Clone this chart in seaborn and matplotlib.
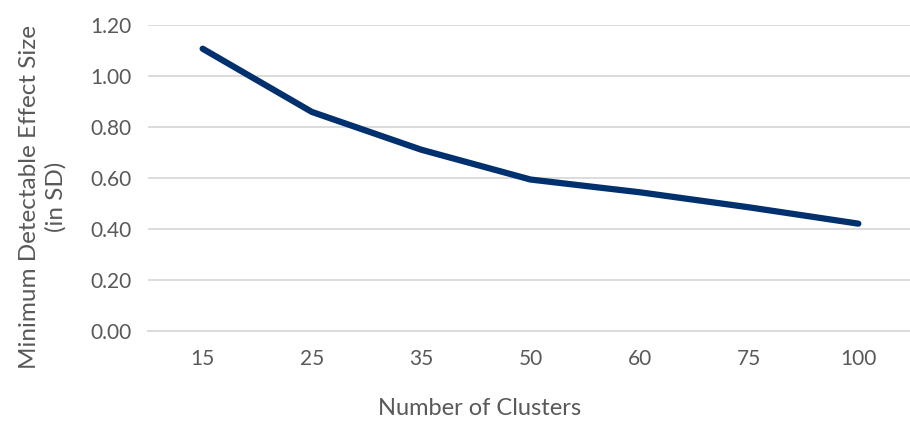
import matplotlib
matplotlib.use("Agg")
import matplotlib.pyplot as plt
import seaborn as sns
import pandas as pd

clusters = ["15", "25", "35", "50", "60", "75", "100"]
mdes = [1.107, 0.859, 0.711, 0.594, 0.544, 0.485, 0.421]
yticks = [0.0, 0.2, 0.4, 0.6, 0.8, 1.0, 1.2]

sns.set_theme(style="white")
plt.rcParams['font.family'] = ['Lato', 'DejaVu Sans']

df = pd.DataFrame({"Number of Clusters": clusters, "MDES": mdes})

fig = plt.figure(figsize=(9.10, 4.21), dpi=100)
ax = fig.add_axes([148/910, 1 - 331/421, (913-148)/910, (331-25)/421])

sns.lineplot(data=df, x="Number of Clusters", y="MDES", ax=ax, sort=False,
             color="#00306E", linewidth=4.5, solid_capstyle="round", solid_joinstyle="round")

ax.set_ylim(0, 1.2)
ax.set_xlim(-0.5, 6.5)
ax.set_yticks(yticks)
ax.set_yticklabels([f"{v:.2f}" for v in yticks])
ax.yaxis.grid(True, color="#D9D9D9", linewidth=1.3)
ax.set_axisbelow(True)
for s in ax.spines.values():
    s.set_visible(False)
ax.spines['bottom'].set_visible(True)
ax.spines['bottom'].set_color("#D9D9D9")
ax.spines['bottom'].set_linewidth(1.3)
ax.tick_params(axis='both', length=0, labelsize=15, colors="#595959")
ax.tick_params(axis='x', pad=13)
ax.tick_params(axis='y', pad=12)

ax.set_xlabel("Number of Clusters", fontsize=17, color="#595959")
ax.xaxis.set_label_coords((480-148)/765, (331-398)/306)
ax.set_ylabel("Minimum Detectable Effect Size\n(in SD)", fontsize=17.5, color="#595959",
              linespacing=1.3)
ax.yaxis.set_label_coords((67-148)/765, (331-197)/306)

fig.savefig("out.png", dpi=100)
